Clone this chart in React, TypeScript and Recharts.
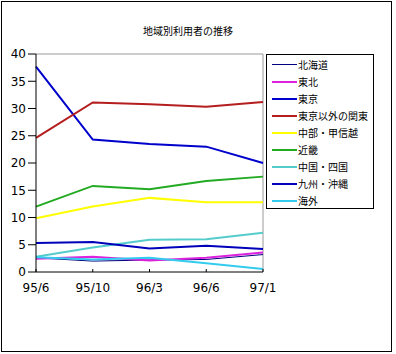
import { LineChart, Line, XAxis, YAxis, ReferenceLine } from 'recharts';

const categories = ['95/6', '95/10', '96/3', '96/6', '97/1'];

const hokkaido = [2.6, 2.0, 2.2, 2.3, 3.2];
const tohoku = [2.45, 2.8, 2.1, 2.6, 3.6];
const tokyo = [37.7, 24.3, 23.5, 23.0, 20.0];
const kanto = [24.6, 31.1, 30.8, 30.3, 31.2];
const chubu = [9.85, 12.0, 13.6, 12.8, 12.8];
const kinki = [12.0, 15.8, 15.2, 16.7, 17.5];
const chugoku = [2.8, 4.5, 5.9, 6.0, 7.2];
const kyushu = [5.3, 5.5, 4.3, 4.8, 4.2];
const kaigai = [2.7, 2.3, 2.6, 1.6, 0.55];

const yTicks = [0, 5, 10, 15, 20, 25, 30, 35, 40];

const SERIES = [
  { key: 'hokkaido', name: '北海道', values: hokkaido, color: '#000080', width: 1 },
  { key: 'tohoku', name: '東北', values: tohoku, color: '#DD22DD', width: 2 },
  { key: 'tokyo', name: '東京', values: tokyo, color: '#0000CC', width: 2 },
  { key: 'kanto', name: '東京以外の関東', values: kanto, color: '#B41E1E', width: 2 },
  { key: 'chubu', name: '中部・甲信越', values: chubu, color: '#FFFF00', width: 2 },
  { key: 'kinki', name: '近畿', values: kinki, color: '#22AA22', width: 2 },
  { key: 'chugoku', name: '中国・四国', values: chugoku, color: '#55CCCC', width: 2 },
  { key: 'kyushu', name: '九州・沖縄', values: kyushu, color: '#0000BB', width: 2 },
  { key: 'kaigai', name: '海外', values: kaigai, color: '#33CCEE', width: 2 },
];

const data = categories.map((label, i) => {
  const row: Record<string, number | string> = { label };
  for (const s of SERIES) row[s.key] = s.values[i];
  return row;
});

const FONT = '"DejaVu Sans", sans-serif';
const CJK = '"Noto Sans CJK JP", sans-serif';

function XTick({ x, y, payload }: any) {
  // inward tick mark drawn above the axis line, label below
  return (
    <g>
      <line x1={x} y1={y - 3} x2={x} y2={y} stroke="#000" />
      <text x={x} y={y + 20} textAnchor="middle" fontSize={12} fontFamily={FONT} fill="#000">
        {payload.value}
      </text>
    </g>
  );
}

export default function App() {
  return (
    <div style={{ position: 'absolute', left: 0, top: 0, width: 396, height: 354, background: '#fff' }}>
      <div
        style={{
          position: 'absolute',
          left: 1,
          top: 1,
          width: 389,
          height: 349,
          border: '1px solid #000',
        }}
      />
      <div
        style={{
          position: 'absolute',
          left: 88,
          top: 24,
          width: 200,
          textAlign: 'center',
          fontFamily: CJK,
          fontSize: 10,
          lineHeight: '14px',
        }}
      >
        地域別利用者の推移
      </div>
      <div style={{ position: 'absolute', left: 0, top: 0 }}>
        <LineChart width={396} height={354} data={data} margin={{ top: 54, right: 133, bottom: 52, left: 0 }}>
          <XAxis
            dataKey="label"
            height={30}
            stroke="#000"
            tickLine={false}
            tickSize={0}
            tickMargin={0}
            interval={0}
            tick={<XTick />}
          />
          <YAxis
            width={36}
            domain={[0, 40]}
            ticks={yTicks}
            stroke="#000"
            tickSize={8}
            tickMargin={2}
            tick={{ fill: '#000', fontSize: 12, fontFamily: FONT }}
          />
          <ReferenceLine y={40} stroke="#999" />
          <ReferenceLine x="97/1" stroke="#999" />
          {SERIES.map((s) => (
            <Line
              key={s.key}
              type="linear"
              dataKey={s.key}
              name={s.name}
              stroke={s.color}
              strokeWidth={s.width}
              dot={false}
              isAnimationActive={false}
            />
          ))}
        </LineChart>
      </div>
      <div
        style={{
          position: 'absolute',
          left: 266,
          top: 54,
          width: 106,
          height: 152,
          border: '1px solid #000',
          background: '#fff',
          paddingTop: 1,
          boxSizing: 'content-box',
        }}
      >
        {SERIES.map((s) => (
          <div key={s.key} style={{ display: 'flex', alignItems: 'center', height: 17 }}>
            <div style={{ width: 25, marginLeft: 5, height: s.width, background: s.color }} />
            <span style={{ fontFamily: CJK, fontSize: 10, lineHeight: '17px', marginLeft: 1 }}>{s.name}</span>
          </div>
        ))}
      </div>
    </div>
  );
}
